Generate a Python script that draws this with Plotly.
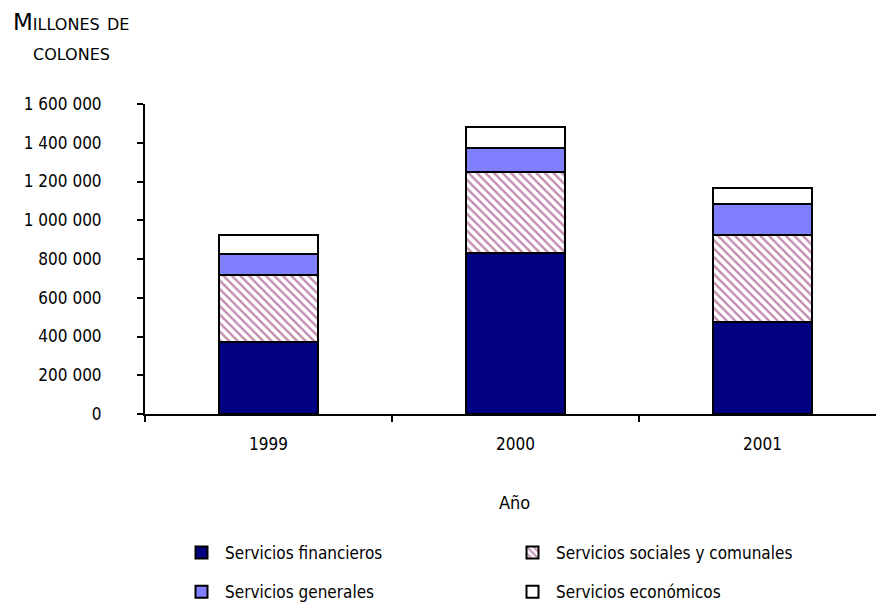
import plotly.graph_objects as go

years = ["1999", "2000", "2001"]
financieros = [370000, 831000, 475000]
sociales = [349000, 417000, 450000]
generales = [108000, 127000, 160000]
economicos = [98000, 108000, 81000]
y_ticks = [0, 200000, 400000, 600000, 800000, 1000000, 1200000, 1400000, 1600000]
y_ticktext = ["0", "200 000", "400 000", "600 000", "800 000", "1 000 000",
              "1 200 000", "1 400 000", "1 600 000"]

FONT = "DejaVu Sans Condensed, DejaVu Sans, sans-serif"
line = dict(color="#000000", width=2)

fig = go.Figure()
fig.add_trace(go.Bar(x=years, y=financieros, name="Servicios financieros",
                     marker=dict(color="#000080", line=line),
                     legend="legend", legendgroup="a", width=0.4))
fig.add_trace(go.Bar(x=years, y=sociales, name="Servicios sociales y comunales",
                     marker=dict(color="#ffffff", line=line,
                                 pattern=dict(shape="\\", fgcolor="#80175f", bgcolor="#ffffff",
                                              size=6, solidity=0.4)),
                     legend="legend2", legendgroup="b", width=0.4))
fig.add_trace(go.Bar(x=years, y=generales, name="Servicios generales",
                     marker=dict(color="#8080ff", line=line),
                     legend="legend", legendgroup="c", width=0.4))
fig.add_trace(go.Bar(x=years, y=economicos, name="Servicios económicos",
                     marker=dict(color="#ffffff", line=line),
                     legend="legend2", legendgroup="d", width=0.4))

W, H = 876, 596
L, T, B = 137, 96, 190
PW = W - L
PH = H - T - B

def px(p):
    return (p - L) / PW

def py(p):
    return (H - B - p) / PH

leg_common = dict(orientation="v", traceorder="grouped", tracegroupgap=14,
                  font=dict(family=FONT, size=17, color="#000"),
                  bgcolor="rgba(0,0,0,0)", xref="paper", yref="paper",
                  xanchor="left", yanchor="top", itemwidth=37)

fig.update_layout(
    width=W, height=H,
    barmode="stack",
    plot_bgcolor="#ffffff", paper_bgcolor="#ffffff",
    margin=dict(l=L, r=0, t=T, b=B, autoexpand=False),
    font=dict(family=FONT, size=17, color="#000"),
    xaxis=dict(range=[-0.5, 2.492], showline=True, linecolor="#000", linewidth=2,
               ticks="outside", tickcolor="#000", ticklen=6, tickwidth=2,
               tickson="boundaries", showgrid=False, automargin=False,
               tickfont=dict(family=FONT, size=17), ticklabelstandoff=14,
               title=dict(text="Año", font=dict(family=FONT, size=18), standoff=43)),
    yaxis=dict(range=[0, 1600000], tickvals=y_ticks, ticktext=y_ticktext,
               showline=True, linecolor="#000", linewidth=2,
               ticks="outside", tickcolor="#000", ticklen=6, tickwidth=2,
               showgrid=False, zeroline=False, automargin=False,
               tickfont=dict(family=FONT, size=17), ticklabelstandoff=32),
    legend=dict(x=px(170), y=py(527), **leg_common),
    legend2=dict(x=px(501), y=py(527), **leg_common),
    annotations=[
        dict(text="Millones de", xref="paper", yref="paper",
             x=px(63), y=py(14), xanchor="center", yanchor="middle",
             showarrow=False,
             font=dict(family="DejaVu Sans", size=23, variant="small-caps", color="#000")),
        dict(text="colones", xref="paper", yref="paper",
             x=px(63), y=py(44), xanchor="center", yanchor="middle",
             showarrow=False,
             font=dict(family="DejaVu Sans", size=23, variant="small-caps", color="#000")),
    ],
)

fig.write_html("out.html")
